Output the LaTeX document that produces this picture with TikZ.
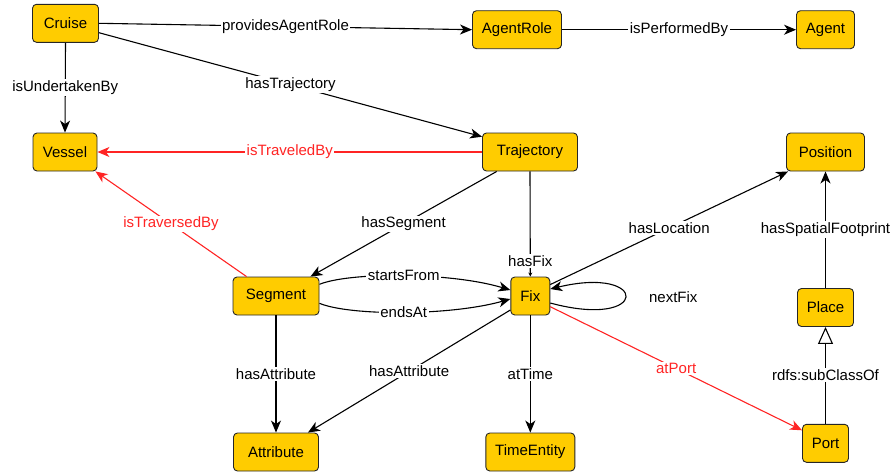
\documentclass[tikz,border=0pt]{standalone}
\usepackage{fontspec}
\setmainfont{Liberation Sans}
\usetikzlibrary{arrows.meta}
\definecolor{nodefill}{HTML}{FFCC00}
\definecolor{relred}{HTML}{FF2424}
\begin{document}
\begin{tikzpicture}[x=1pt,y=-1pt,
  cls/.style={draw=black!85, fill=nodefill, rounded corners=4pt, line width=0.9pt, minimum height=38pt, inner sep=2pt, font=\fontsize{15}{18}\selectfont},
  rel/.style={draw=black, line width=1.1pt, -{Stealth[length=12pt,width=10pt,inset=3.5pt]}},
  smallrel/.style={draw=black, line width=1.1pt, -{Stealth[length=4pt,width=4pt]}},
  redrel/.style={rel, draw=relred},
  subrel/.style={draw=black, line width=1.1pt, -{Triangle[open, length=17pt, width=15pt, fill=white]}},
  lbl/.style={fill=white, inner sep=1.5pt, font=\fontsize{15}{18}\selectfont, text=black},
  redlbl/.style={lbl, text=relred}]
\useasboundingbox (0,0) rectangle (893,472);

% classes
\node[cls, minimum width=66pt] (cruise) at (65.5,23.3) {Cruise};
\node[cls, minimum width=64pt] (vessel) at (65,152) {Vessel};
\node[cls, minimum width=89pt] (agentrole) at (517,29.7) {AgentRole};
\node[cls, minimum width=58pt] (agent) at (825.5,29.7) {Agent};
\node[cls, minimum width=95pt] (trajectory) at (530,152) {Trajectory};
\node[cls, minimum width=78pt] (position) at (825.5,152) {Position};
\node[cls, minimum width=86pt] (segment) at (276,296) {Segment};
\node[cls, minimum width=39pt] (fix) at (530.3,296) {Fix};
\node[cls, minimum width=85pt] (attribute) at (276,452) {Attribute};
\node[cls, minimum width=89pt] (timeentity) at (530.3,452) {TimeEntity};
\node[cls, minimum width=56pt] (place) at (825.5,307.5) {Place};
\node[cls, minimum width=46pt] (port) at (825.5,443.3) {Port};

% relations
\draw[rel] (cruise.east) -- node[lbl] {providesAgentRole} (agentrole.west);
\draw[rel] (agentrole.east) -- node[lbl] {isPerformedBy} (agent.west);
\draw[rel] (cruise.south) -- node[lbl] {isUndertakenBy} (vessel.north);
\draw[rel] ([yshift=-9.4pt]cruise.east) -- node[lbl] {hasTrajectory} ([yshift=15.3pt]trajectory.west);
\draw[redrel] (trajectory.west) -- node[redlbl] {isTraveledBy} (vessel.east);
\draw[redrel] ([xshift=14pt]segment.north west) -- node[redlbl] {isTraversedBy} ([xshift=-2pt]vessel.south east);
\draw[rel] ([xshift=-33.3pt]trajectory.south) -- node[lbl] {hasSegment} ([xshift=-9pt]segment.north east);
\draw[smallrel] (trajectory.south) -- node[lbl, pos=0.85] {hasFix} (fix.north);
\draw[rel] ([yshift=11.7pt]segment.east) .. controls (350,272) and (450,272) .. node[lbl] {startsFrom} ([yshift=6pt]fix.west);
\draw[rel] ([yshift=-7.3pt]segment.east) .. controls (350,316) and (450,316) .. node[lbl] {endsAt} ([yshift=-3pt]fix.west);
\draw[rel] ([yshift=-8pt]fix.north east) -- node[lbl] {hasLocation} ([xshift=2pt]position.south west);
\draw[rel] ([yshift=-7pt]fix.east) .. controls (650,330) and (650,265) .. node[lbl, pos=0.5, anchor=west, xshift=22pt] {nextFix} ([yshift=7pt]fix.east);
\draw[redrel] ([yshift=-10.7pt]fix.east) -- node[redlbl] {atPort} ([yshift=13pt]port.west);
\draw[rel] (place.north) -- node[lbl] {hasSpatialFootprint} (position.south);
\draw[subrel] (port.north) -- node[lbl] {rdfs:subClassOf} (place.south);
\draw[rel] (segment.south) -- node[lbl] {hasAttribute} (attribute.north);
\draw[rel] ([yshift=-14pt]fix.west) -- node[lbl] {hasAttribute} ([xshift=-11pt]attribute.north east);
\draw[rel] (fix.south) -- node[lbl] {atTime} (timeentity.north);
\end{tikzpicture}
\end{document}
